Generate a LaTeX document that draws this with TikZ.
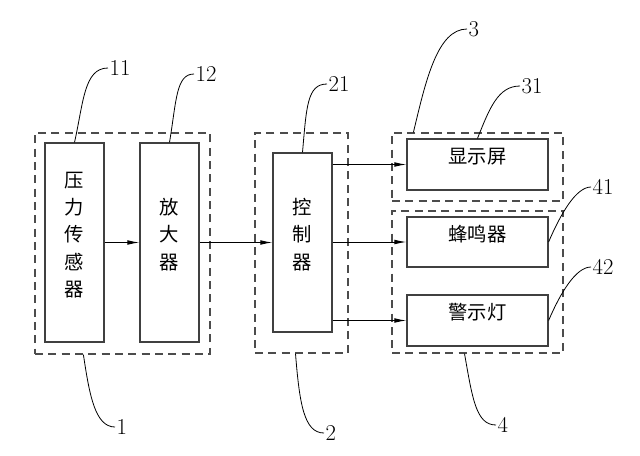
\documentclass[tikz,border=0pt]{standalone}
\usepackage{fontspec}
\newfontfamily\cjk{Noto Sans CJK SC}
\usetikzlibrary{arrows.meta,fit}

\tikzset{
  box/.style={draw=black!75, line width=0.9pt, inner sep=0pt, align=center,
    font=\cjk\fontsize{14.5}{20.5}\selectfont},
  grp/.style={draw=black!70, line width=0.9pt, dash pattern=on 6pt off 4pt, inner sep=0pt},
  arr/.style={line width=0.7pt, -{Latex[length=9pt,width=3.5pt]}},
  lead/.style={line width=0.6pt},
  num/.style={anchor=west, inner sep=1pt, font=\fontsize{17}{17}\selectfont}
}

\begin{document}
\begin{tikzpicture}[x=0.75pt,y=-0.75pt]
\useasboundingbox (0,0) rectangle (640,455);

% dashed groups
\node[grp, fit={(35,133) (210,354)}] (g1) {};
\node[grp, fit={(255,133) (348,353)}] (g2) {};
\node[grp, fit={(392,133) (563,201)}] (g3) {};
\node[grp, fit={(392,211) (563,353)}] (g4) {};

% blocks
\node[box, fit={(45,143) (104,342)}] (sensor) {压\\力\\传\\感\\器};
\node[box, fit={(140,143) (199,342)}] (amp) {放\\大\\器};
\node[box, fit={(273,153) (332,332)}] (ctrl) {控\\制\\器};
\node[box, fit={(407,139) (548,190)}] (disp) {显示屏};
\node[box, fit={(407,217) (548,267)}] (buzz) {蜂鸣器};
\node[box, fit={(407,295) (548,346)}] (lamp) {警示灯};

% signal flow
\draw[arr] (sensor.east) -- (amp.west);
\draw[arr] (amp.east) -- (ctrl.west);
\draw[arr] (ctrl.east |- disp.west) -- (disp.west);
\draw[arr] (ctrl.east |- buzz.west) -- (buzz.west);
\draw[arr] (ctrl.east |- lamp.west) -- (lamp.west);

% reference numbers
\node[num] (n11) at (108,68) {11};
\node[num] (n12) at (194,74) {12};
\node[num] (n21) at (327,84) {21};
\node[num] (n3) at (467,29) {3};
\node[num] (n31) at (520,86) {31};
\node[num] (n41) at (591,187) {41};
\node[num] (n42) at (591,267) {42};
\node[num] (n1) at (115,427) {1};
\node[num] (n2) at (324,433) {2};
\node[num] (n4) at (496,425) {4};

% leaders
\coordinate (p3) at ([xshift=22*0.75pt]g3.north west);
\coordinate (p1) at ([xshift=49*0.75pt]g1.south west);
\coordinate (p2) at ([xshift=-6*0.75pt]g2.south);
\coordinate (p4) at ([xshift=-13*0.75pt]g4.south);
\draw[lead] (sensor.north) .. controls +(9,-40) and +(-24,0) .. (n11.west);
\draw[lead] (amp.north) .. controls +(7,-42) and +(-18,0) .. (n12.west);
\draw[lead] (ctrl.north) .. controls +(4,-45) and +(-20,0) .. (n21.west);
\draw[lead] (p3) .. controls +(12,-50) and +(-30,0) .. (n3.west);
\draw[lead] (disp.north) .. controls +(12,-30) and +(-22,0) .. (n31.west);
\draw[lead] (buzz.east) .. controls +(12,-28) and +(-15,0) .. (n41.west);
\draw[lead] (lamp.east) .. controls +(12,-28) and +(-15,0) .. (n42.west);
\draw[lead] (p1) .. controls +(6,40) and +(-20,0) .. (n1.west);
\draw[lead] (p2) .. controls +(4,50) and +(-20,0) .. (n2.west);
\draw[lead] (p4) .. controls +(8,45) and +(-20,0) .. (n4.west);

\end{tikzpicture}
\end{document}
